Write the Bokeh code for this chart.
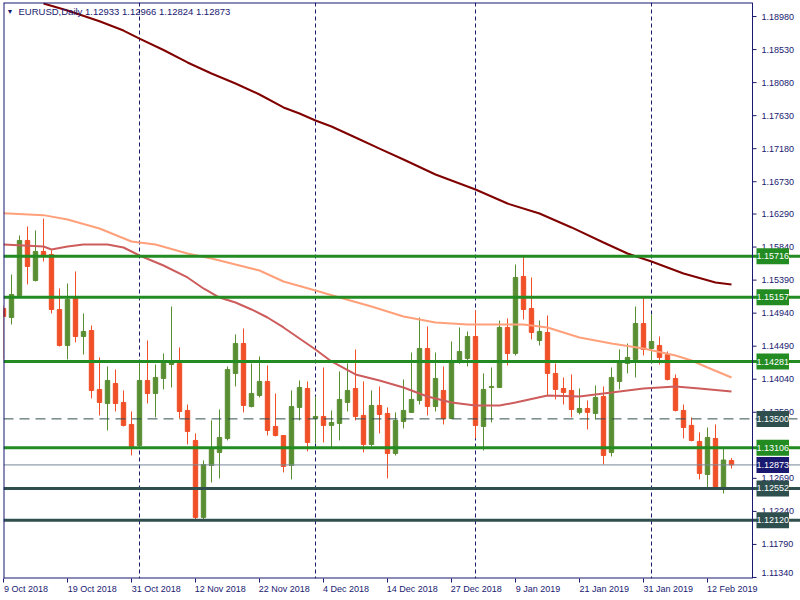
import pandas as pd
from bokeh.plotting import figure
from bokeh.models import Range1d, FixedTicker, Span, Label, ColumnDataSource, LinearAxis
from bokeh.core.properties import value
from bokeh.embed import file_html
from bokeh.resources import INLINE

# ---------------- data ----------------
symbol = "EURUSD,Daily"
holidays = ["2018-12-25", "2019-01-01"]
dates = [d for d in pd.bdate_range("2018-10-09", "2019-02-15")
         if d.strftime("%Y-%m-%d") not in holidays]

opens = [1.15004, 1.14881, 1.15181, 1.15930, 1.15385, 1.15780, 1.15739, 1.14990, 1.14500, 1.15154,
         1.14622, 1.14704, 1.13901, 1.13710, 1.13982, 1.13724, 1.13424, 1.13138, 1.14023, 1.13846,
         1.14051, 1.14241, 1.14255, 1.13615, 1.13206, 1.12158, 1.12866, 1.13043, 1.13233, 1.14119,
         1.14527, 1.13669, 1.13819, 1.14010, 1.13397, 1.13274, 1.12866, 1.13656, 1.13914, 1.13506,
         1.13533, 1.13411, 1.13438, 1.13724, 1.13914, 1.13547, 1.13152, 1.13683, 1.13574, 1.13029,
         1.13465, 1.13588, 1.13751, 1.14459, 1.13669, 1.13887, 1.13506, 1.14282, 1.14323, 1.14622,
         1.13397, 1.13928, 1.13928, 1.14745, 1.14391, 1.15440, 1.15004, 1.14568, 1.14677, 1.14119,
         1.13914, 1.13887, 1.13588, 1.13642, 1.13574, 1.13805, 1.13043, 1.14010, 1.14255, 1.14309,
         1.14799, 1.14459, 1.14500, 1.14377, 1.14051, 1.13615, 1.13411, 1.13193, 1.12743, 1.13233,
         1.12566, 1.12933]
highs = [1.15045, 1.15467, 1.15998, 1.16120, 1.16066, 1.16229, 1.15794, 1.15276, 1.15344, 1.15508,
         1.14936, 1.14772, 1.14337, 1.14214, 1.14173, 1.13887, 1.13601, 1.14268, 1.14568, 1.14241,
         1.14391, 1.15031, 1.14473, 1.13696, 1.13302, 1.12934, 1.13479, 1.13628, 1.14214, 1.14650,
         1.14731, 1.14255, 1.14350, 1.14228, 1.13846, 1.13280, 1.13887, 1.14023, 1.14010, 1.13805,
         1.14200, 1.13615, 1.14146, 1.14255, 1.14445, 1.14010, 1.13887, 1.13942, 1.13656, 1.13588,
         1.14037, 1.14405, 1.14881, 1.14759, 1.14405, 1.14214, 1.14554, 1.14745, 1.14691, 1.14977,
         1.14119, 1.14200, 1.14840, 1.14868, 1.15603, 1.15725, 1.15426, 1.14840, 1.14908, 1.14255,
         1.14064, 1.14105, 1.13914, 1.13751, 1.13955, 1.13942, 1.14200, 1.14445, 1.14527, 1.15031,
         1.15167, 1.14922, 1.14622, 1.14418, 1.14105, 1.13696, 1.13520, 1.13316, 1.13383, 1.13424,
         1.13111, 1.12966]
lows = [1.14309, 1.14786, 1.15167, 1.15331, 1.15371, 1.15644, 1.14936, 1.14486, 1.14309, 1.14541,
        1.14377, 1.13778, 1.13547, 1.13342, 1.13601, 1.13397, 1.13002, 1.13111, 1.13710, 1.13520,
        1.13901, 1.13928, 1.13506, 1.13152, 1.12131, 1.12131, 1.12634, 1.12689, 1.13206, 1.13942,
        1.13588, 1.13656, 1.13792, 1.13274, 1.13261, 1.12771, 1.12675, 1.13479, 1.13057, 1.13165,
        1.13179, 1.13111, 1.13206, 1.13601, 1.13479, 1.13043, 1.13125, 1.13302, 1.12689, 1.13002,
        1.13370, 1.13580, 1.13696, 1.13547, 1.13601, 1.13424, 1.13500, 1.14250, 1.14214, 1.13233,
        1.13070, 1.13451, 1.13920, 1.14228, 1.14364, 1.14854, 1.14582, 1.14500, 1.13819, 1.13765,
        1.13696, 1.13520, 1.13560, 1.13356, 1.13492, 1.12879, 1.12988, 1.13901, 1.14119, 1.14064,
        1.14364, 1.14309, 1.14241, 1.14023, 1.13601, 1.13233, 1.13193, 1.12675, 1.12553, 1.12553,
        1.12484, 1.12824]
closes = [1.14895, 1.15194, 1.15930, 1.15576, 1.15780, 1.15725, 1.14990, 1.14500, 1.15126, 1.14622,
          1.14691, 1.13887, 1.13724, 1.14023, 1.13710, 1.13411, 1.13125, 1.14023, 1.13846, 1.14064,
          1.14255, 1.14262, 1.13601, 1.13329, 1.12158, 1.12879, 1.13097, 1.13247, 1.14173, 1.14527,
          1.13683, 1.13846, 1.14010, 1.13342, 1.13274, 1.12852, 1.13669, 1.13928, 1.13179, 1.13533,
          1.13411, 1.13451, 1.13765, 1.13887, 1.13533, 1.13152, 1.13683, 1.13560, 1.13029, 1.13479,
          1.13615, 1.13765, 1.14459, 1.13669, 1.14051, 1.13506, 1.14296, 1.14418, 1.14622, 1.13411,
          1.13901, 1.13942, 1.14745, 1.14391, 1.15426, 1.14990, 1.14677, 1.14691, 1.14119, 1.13901,
          1.13860, 1.13628, 1.13642, 1.13588, 1.13792, 1.13002, 1.14064, 1.14282, 1.14337, 1.14799,
          1.14445, 1.14554, 1.14337, 1.14037, 1.13615, 1.13383, 1.13206, 1.12757, 1.13247, 1.12566,
          1.12940, 1.12873]

# moving averages, read at sample candles
ma_slow_idx = [5, 8, 12, 15, 17, 20, 23, 26, 29, 32, 35, 37, 39, 41, 44, 47, 50, 54, 59, 63,
               67, 71, 75, 78, 81, 85, 89, 91]
ma_slow_val = [1.19157, 1.19062, 1.18916, 1.18789, 1.18680, 1.18524, 1.18354, 1.18204, 1.18068,
               1.17918, 1.17741, 1.17659, 1.17564, 1.17482, 1.17332, 1.17182, 1.17033, 1.16828,
               1.16624, 1.16433, 1.16297, 1.16107, 1.15902, 1.15752, 1.15643, 1.15480, 1.15358,
               1.15330]
ma_mid_idx = [0, 5, 8, 12, 16, 19, 23, 26, 29, 32, 35, 39, 42, 46, 50, 54, 58, 62, 65, 68,
              72, 76, 80, 84, 86, 88, 91]
ma_mid_val = [1.16299, 1.16275, 1.16215, 1.16093, 1.15916, 1.15875, 1.15752, 1.15684, 1.15603,
              1.15521, 1.15371, 1.15249, 1.15153, 1.15031, 1.14894, 1.14813, 1.14786, 1.14786,
              1.14786, 1.14745, 1.14609, 1.14527, 1.14459, 1.14363, 1.14295, 1.14200, 1.14064]
ma_fast_idx = [0, 5, 6, 8, 10, 13, 15, 17, 20, 23, 25, 27, 29, 31, 33, 35, 37, 39, 41, 44,
               47, 50, 53, 56, 59, 62, 64, 68, 72, 76, 80, 84, 87, 91]
ma_fast_val = [1.15875, 1.15848, 1.15807, 1.15848, 1.15875, 1.15875, 1.15834, 1.15725, 1.15589,
               1.15426, 1.15276, 1.15153, 1.15085, 1.14990, 1.14881, 1.14745, 1.14595, 1.14445,
               1.14282, 1.14105, 1.14023, 1.13928, 1.13805, 1.13723, 1.13682, 1.13682, 1.13723,
               1.13819, 1.13805, 1.13860, 1.13914, 1.13941, 1.13914, 1.13873]

resistance_levels = [1.15716, 1.15157, 1.14281, 1.13106]
support_levels = [1.12552, 1.12120]
pivot_level = 1.13500

price_ticks = [1.11340, 1.11790, 1.12240, 1.12690, 1.13590, 1.14040, 1.14490, 1.14940,
               1.15390, 1.15840, 1.16290, 1.16730, 1.17180, 1.17630, 1.18080, 1.18530, 1.18980]

# ---------------- styles / geometry ----------------
NAVY = "#191970"
UP = "#5A8E32"
DN = "#F04F27"
LEVEL_G = "#228B22"
LEVEL_D = "#2F4F4F"
BID = "#778899"
FONT = "Liberation Sans"
FS = "9px"
PX = 8.0                      # pixels per candle slot
FW = 797                      # frame spans to the right edge (price scale drawn inside)
FH = 576
AXIS_X = 749 / PX             # position of the price scale line, in candle units
Y0, Y1 = 1.11326, 1.19171

n = len(closes)
xs = list(range(n))
colors = [UP if c >= o else DN for o, c in zip(opens, closes)]
src = ColumnDataSource(dict(
    x=xs, high=highs, low=lows,
    top=[max(o, c) for o, c in zip(opens, closes)],
    bottom=[min(o, c) for o, c in zip(opens, closes)],
    color=colors))

p = figure(width=800, height=600,
           x_range=Range1d(0, FW / PX), y_range=Range1d(Y0, Y1),
           output_backend="svg", toolbar_location=None, y_axis_location=None,
           min_border_left=3, min_border_top=2, min_border_right=0, min_border_bottom=22,
           background_fill_color="white", border_fill_color="white")
p.grid.visible = False
p.outline_line_color = None

# month separators
for i in range(1, n):
    if dates[i].month != dates[i - 1].month:
        p.add_layout(Span(location=i, dimension="height", line_color=NAVY,
                          line_dash="4 3", line_width=1, level="underlay"))

# candles
p.segment(x0="x", y0="low", x1="x", y1="high", line_color="color", line_width=1, source=src)
p.vbar(x="x", top="top", bottom="bottom", width=0.55, fill_color="color",
       line_color="color", line_width=1, source=src)

# moving averages
p.line(ma_slow_idx, ma_slow_val, line_color="#800000", line_width=2)
p.line(ma_mid_idx, ma_mid_val, line_color="#FFA07A", line_width=2)
p.line(ma_fast_idx, ma_fast_val, line_color="#CD5C5C", line_width=2)

# horizontal levels
for lvl in resistance_levels:
    p.add_layout(Span(location=lvl, dimension="width", line_color=LEVEL_G, line_width=3))
for lvl in support_levels:
    p.add_layout(Span(location=lvl, dimension="width", line_color=LEVEL_D, line_width=3))
p.add_layout(Span(location=pivot_level, dimension="width", line_color=LEVEL_D,
                  line_width=1, line_dash="10 6"))
p.add_layout(Span(location=closes[-1], dimension="width", line_color=BID, line_width=1))

# chart border (left, top, bottom) and price scale line
p.add_layout(Span(location=0, dimension="height", line_color=NAVY, line_width=2))
p.segment(x0=[0, 0], x1=[AXIS_X, AXIS_X], y0=[Y1, Y0], y1=[Y1, Y0], line_color=NAVY, line_width=2)
p.add_layout(Span(location=AXIS_X, dimension="height", line_color=NAVY, line_width=1))

# price scale: ticks and labels
p.ray(x=[AXIS_X] * len(price_ticks), y=price_ticks, length=4, length_units="screen",
      angle=0, line_color=NAVY, line_width=1)
p.text(x=[AXIS_X] * len(price_ticks), y=price_ticks, text=[f"{t:.5f}" for t in price_ticks],
       x_offset=9, y_offset=[-4 if t == min(price_ticks) else 0 for t in price_ticks],
       text_baseline="middle", text_align="left", text_color=NAVY,
       text_font=value(FONT), text_font_size=value(FS))

# price boxes on the scale
boxes = ([(v, LEVEL_G) for v in resistance_levels] + [(v, LEVEL_D) for v in support_levels]
         + [(pivot_level, LEVEL_D), (closes[-1], NAVY)])
for v, col in boxes:
    p.add_layout(Label(x=AXIS_X, y=v, text=f"{v:.5f}", x_offset=4, text_align="left",
                       text_baseline="middle", text_color="white", text_font=FONT,
                       text_font_size=FS, background_fill_color=col, padding=(0, 5)))

# header
p.add_layout(Label(x=3, y=FH - 9, x_units="screen", y_units="screen", text="\u25bc",
                   text_font=FONT, text_font_size="7px", text_color=NAVY,
                   text_baseline="middle"))
p.add_layout(Label(x=15, y=FH - 9, x_units="screen", y_units="screen",
                   text=f"{symbol}  {opens[-1]:.5f} {highs[-1]:.5f} {lows[-1]:.5f} {closes[-1]:.5f}",
                   text_font=FONT, text_font_size="9.5px", text_color=NAVY,
                   text_baseline="middle"))

# date axis: tick marks at the candles, labels starting at each tick
date_ticks = list(range(0, n, 8))
date_labels = [f"{dates[i].day} {dates[i].strftime('%b %Y')}" for i in date_ticks]

xa = p.xaxis[0]
xa.ticker = FixedTicker(ticks=date_ticks)
xa.major_label_overrides = {i: "" for i in date_ticks}
xa.axis_line_color = None
xa.major_tick_line_color = NAVY
xa.major_tick_out = 4
xa.major_tick_in = 0
xa.minor_tick_line_color = None
xa.major_label_standoff = 0

label_pos = [i + 2.25 * len(t) / PX for i, t in zip(date_ticks, date_labels)]
xa2 = LinearAxis(ticker=FixedTicker(ticks=label_pos),
                 major_label_overrides={pos: t for pos, t in zip(label_pos, date_labels)})
xa2.axis_line_color = None
xa2.major_tick_line_color = None
xa2.minor_tick_line_color = None
xa2.major_tick_out = 0
xa2.major_tick_in = 0
xa2.major_label_standoff = 1
xa2.major_label_text_color = NAVY
xa2.major_label_text_font = FONT
xa2.major_label_text_font_size = FS
p.add_layout(xa2, "below")

open("out.html", "w").write(file_html(p, INLINE))
